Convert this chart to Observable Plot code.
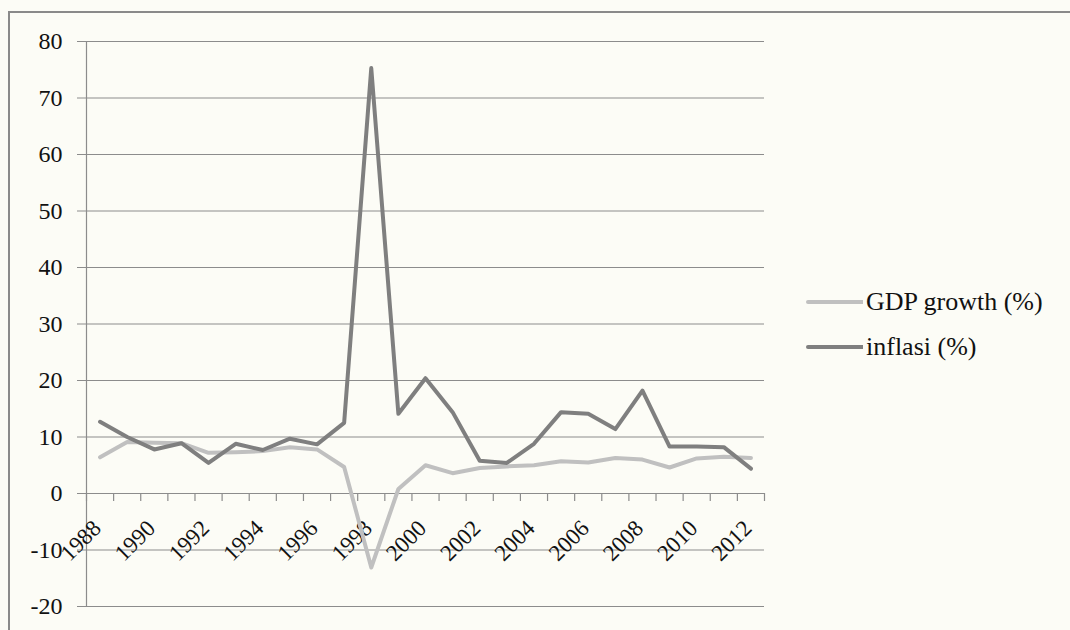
<!DOCTYPE html>
<html>
<head>
<meta charset="utf-8">
<script src="https://cdn.jsdelivr.net/npm/d3@7"></script>
<script src="https://cdn.jsdelivr.net/npm/@observablehq/plot@0.6"></script>
<style>
  html, body { margin: 0; padding: 0; background: #fcfcf6; }
  #wrap { position: relative; width: 1070px; height: 630px; overflow: hidden; background: #fcfcf6; }
  #frame { position: absolute; left: 8px; top: 11px; width: 1100px; height: 700px;
           border-left: 2px solid #8a8a8a; border-top: 2px solid #8a8a8a; box-sizing: border-box; }
  #chart { position: absolute; left: 0; top: 0; }
  #legend { position: absolute; left: 806px; top: 279px; font-family: "Liberation Serif", "Times New Roman", serif; font-size: 26px; color: #111; }
  .item { display: flex; align-items: center; height: 45px; }
  .item svg { margin-right: 3px; }
</style>
</head>
<body>
<div id="wrap">
  <div id="frame"></div>
  <div id="chart"></div>
  <div id="legend"></div>
</div>
<script>
const years = [1988, 1989, 1990, 1991, 1992, 1993, 1994, 1995, 1996, 1997, 1998, 1999, 2000,
               2001, 2002, 2003, 2004, 2005, 2006, 2007, 2008, 2009, 2010, 2011, 2012];
const gdpGrowth = [6.4, 9.1, 9.0, 8.9, 7.2, 7.3, 7.5, 8.2, 7.8, 4.7, -13.1, 0.8, 5.0,
                   3.6, 4.5, 4.8, 5.0, 5.7, 5.5, 6.3, 6.0, 4.6, 6.2, 6.5, 6.3];
const inflasi = [12.7, 10.0, 7.8, 8.9, 5.4, 8.8, 7.7, 9.7, 8.7, 12.5, 75.3, 14.1, 20.4,
                 14.4, 5.8, 5.4, 8.8, 14.4, 14.1, 11.4, 18.2, 8.3, 8.3, 8.2, 4.4];
const yTicks = [-20, -10, 0, 10, 20, 30, 40, 50, 60, 70, 80];
const xLabelYears = [1988, 1990, 1992, 1994, 1996, 1998, 2000, 2002, 2004, 2006, 2008, 2010, 2012];
const seriesNames = ["GDP growth (%)", "inflasi (%)"];
const seriesColors = ["#c0c0c0", "#7f7f7f"];

const gdpData = years.map((y, i) => ({year: y, value: gdpGrowth[i]}));
const infData = years.map((y, i) => ({year: y, value: inflasi[i]}));
// category boundaries (Excel-style ticks between categories)
const bounds = years.map(y => y - 0.5).concat([years[years.length - 1] + 0.5]);

const gridColor = "#8c8c8c";
const serif = "'Liberation Serif', 'Times New Roman', serif";

const chart = Plot.plot({
  width: 1070,
  height: 630,
  marginTop: 41,
  marginBottom: 24,
  marginLeft: 86,
  marginRight: 306,
  style: {background: "transparent", fontFamily: serif, color: "#111"},
  x: {domain: [bounds[0], bounds[bounds.length - 1]], axis: null},
  y: {domain: [-20, 80], axis: null},
  marks: [
    Plot.ruleY(yTicks, {stroke: gridColor, strokeWidth: 1.2, insetLeft: -9}),
    Plot.ruleX([bounds[0]], {stroke: gridColor, strokeWidth: 1.2}),
    Plot.ruleX(bounds, {y1: 0, y2: 0, insetBottom: -8, stroke: gridColor, strokeWidth: 1.2}),
    Plot.text(yTicks, {y: d => d, text: d => String(d), frameAnchor: "left", textAnchor: "end",
                       dx: -24, fontSize: 24, fill: "#111", fontFamily: serif}),
    Plot.text(xLabelYears, {x: d => d, y: 0, text: d => String(d), rotate: -45, textAnchor: "end",
                            dx: -3, dy: 31, fontSize: 23, fill: "#111", fontFamily: serif}),
    Plot.line(gdpData, {x: "year", y: "value", stroke: seriesColors[0], strokeWidth: 4,
                        strokeLinejoin: "round", strokeLinecap: "round"}),
    Plot.line(infData, {x: "year", y: "value", stroke: seriesColors[1], strokeWidth: 4,
                        strokeLinejoin: "round", strokeLinecap: "round"})
  ]
});
document.getElementById("chart").appendChild(chart);

const legend = document.getElementById("legend");
seriesNames.forEach((name, i) => {
  const item = document.createElement("div");
  item.className = "item";
  item.innerHTML = `<svg width="57" height="10"><line x1="2" y1="5" x2="57" y2="5" stroke="${seriesColors[i]}" stroke-width="4" stroke-linecap="round"/></svg><span>${name}</span>`;
  legend.appendChild(item);
});
</script>
</body>
</html>
